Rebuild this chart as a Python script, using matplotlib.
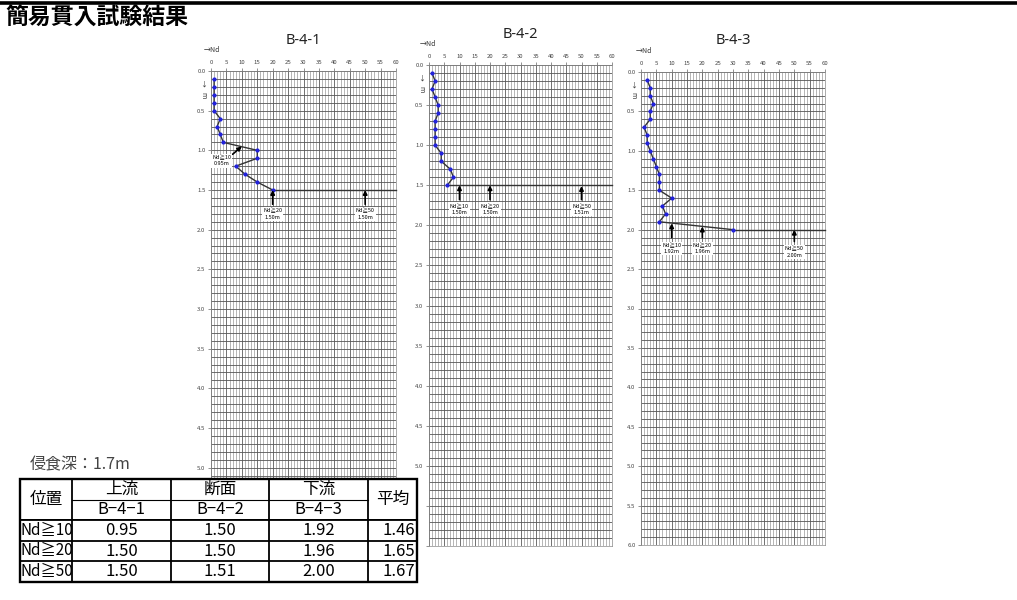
import numpy as np
import matplotlib
matplotlib.use('Agg')
import matplotlib.pyplot as plt
from matplotlib.patches import Rectangle

plt.rcParams['font.family'] = ['Noto Sans CJK JP', 'DejaVu Sans']

# 深度(m) と Nd 値
depth_1 = [0.1, 0.2, 0.3, 0.4, 0.5, 0.6, 0.7, 0.8, 0.9, 1.0, 1.1, 1.2, 1.3, 1.4, 1.5]
nd_1 = [1, 1, 1, 1, 1, 3, 2, 3, 4, 15, 15, 8, 11, 15, 20]
depth_2 = [0.1, 0.2, 0.3, 0.4, 0.5, 0.6, 0.7, 0.8, 0.9, 1.0, 1.1, 1.2, 1.3, 1.4, 1.5]
nd_2 = [1, 2, 1, 2, 3, 3, 2, 2, 2, 2, 4, 4, 7, 8, 6]
depth_3 = [0.1, 0.2, 0.3, 0.4, 0.5, 0.6, 0.7, 0.8, 0.9, 1.0, 1.1, 1.2, 1.3, 1.4, 1.5,
           1.6, 1.7, 1.8, 1.9, 2.0]
nd_3 = [2, 3, 3, 4, 3, 3, 1, 2, 2, 3, 4, 5, 6, 6, 6, 10, 7, 8, 6, 30]

names = ['B-4-1', 'B-4-2', 'B-4-3']
positions = ['上流', '断面', '下流']
thresholds = [10, 20, 50]
# Nd 到達深度 (各地点)
reach_1 = [0.95, 1.50, 1.50]
reach_2 = [1.50, 1.50, 1.51]
reach_3 = [1.92, 1.96, 2.00]
average = [1.46, 1.65, 1.67]
erosion_depth = 1.7

W, H = 1017, 600
fig = plt.figure(figsize=(W / 100, H / 100), dpi=100)


def px_axes(left, top, right, bottom):
    return fig.add_axes([left / W, 1 - bottom / H, (right - left) / W, (bottom - top) / H])


def draw_profile(ax, name, depth, nd, reach, label_pos, nd_off, max_label):
    ax.set_xlim(0, 60)
    ax.set_ylim(6.0, 0.0)
    ax.xaxis.tick_top()
    ax.set_xticks(range(0, 61, 5))
    ax.set_xticks(range(0, 61, 1), minor=True)
    yt = np.arange(0, 6.01, 0.5)
    ax.set_yticks(yt)
    ax.set_yticks(np.arange(0, 6.01, 0.1), minor=True)
    # 表で隠れる目盛は表示しない
    ax.set_yticklabels(['%.1f' % v if v <= max_label + 1e-9 else '' for v in yt])
    ax.tick_params(axis='both', which='major', labelsize=4.3, labelcolor='#444444',
                   length=2, width=0.5, pad=2, color='#666666')
    ax.tick_params(axis='both', which='minor', length=0)
    ax.grid(which='minor', axis='x', color='#a9a9a9', lw=0.6)
    ax.grid(which='major', axis='x', color='#666666', lw=0.65)
    ax.grid(which='both', axis='y', color='#555555', lw=0.6)
    for s in ax.spines.values():
        s.set_color('#888888')
        s.set_linewidth(0.5)

    ax.plot(nd, depth, color='#333333', lw=1.0, zorder=3)
    ax.plot([nd[-1], 60], [depth[-1], depth[-1]], color='#333333', lw=1.0, zorder=3,
            clip_on=False)
    ax.plot(nd, depth, 'o', color='#2222dd', ms=2.0, zorder=4)

    for thr, d, (tx, ty, ax_x, ax_y) in zip(thresholds, reach, label_pos):
        ax.annotate('', xy=(thr, d), xytext=(ax_x, ax_y),
                    arrowprops=dict(arrowstyle='-|>', color='black', lw=1.2,
                                    mutation_scale=6, shrinkA=0, shrinkB=0), zorder=5)
        ax.text(tx, ty, 'Nd≧%d\n%.2fm' % (thr, d), fontsize=4.0, ha='center', va='center',
                linespacing=1.3, zorder=6,
                bbox=dict(facecolor='white', edgecolor='none', pad=0.8))

    h = ax.get_position().height * H
    ax.text(0.5, 1 + 31 / h, name, transform=ax.transAxes, ha='center', va='center',
            fontsize=10.5, family=['Noto Sans', 'DejaVu Sans'], color='#222222')
    ax.text(nd_off, 1 + 21 / h, '→Nd', transform=ax.transAxes, ha='left', va='center',
            fontsize=5, color='#333333')
    ax.text(-0.04, 0.17, '↓', transform=ax.get_yaxis_transform(), ha='center', va='center',
            fontsize=5, color='#333333')
    ax.text(-0.04, 0.3, 'm', transform=ax.get_yaxis_transform(), ha='center', va='center',
            fontsize=5, color='#333333', rotation=-90)


ax1 = px_axes(211, 71, 396, 547)
draw_profile(ax1, names[0], depth_1, nd_1, reach_1,
             [(3.5, 1.13, 7.0, 1.05), (20, 1.8, 20, 1.68), (50, 1.8, 50, 1.68)], -0.04, 5.0)
ax2 = px_axes(429, 65, 612, 546)
draw_profile(ax2, names[1], depth_2, nd_2, reach_2,
             [(10, 1.8, 10, 1.68), (20, 1.8, 20, 1.68), (50, 1.8, 50, 1.68)], -0.05, 5.0)
ax3 = px_axes(641, 72, 825, 545)
draw_profile(ax3, names[2], depth_3, nd_3, reach_3,
             [(10, 2.24, 10, 2.1), (20, 2.24, 20, 2.1), (50, 2.28, 50, 2.15)], -0.03, 6.0)

# 上に重ねる描画用 (ピクセル座標)
ov = fig.add_axes([0, 0, 1, 1], zorder=10)
ov.set_xlim(0, W)
ov.set_ylim(H, 0)
ov.axis('off')
ov.patch.set_alpha(0)

ov.plot([0, W], [3, 3], color='black', lw=2.6, solid_capstyle='butt')
ov.text(5, 18, '簡易貫入試験結果', fontsize=16.5, fontweight='bold', ha='left', va='center')
ov.text(30, 465, '侵食深：%.1fm' % erosion_depth, fontsize=11.5, color='#444444',
        ha='left', va='center')

# 表
cols = [20, 72, 171, 269, 368, 417]
rows = [479, 500, 520, 541, 561, 582]
ov.add_patch(Rectangle((cols[0], rows[0]), cols[-1] - cols[0], rows[-1] - rows[0],
                       facecolor='white', edgecolor='none', zorder=1))
for x in cols[1:-1]:
    ov.plot([x, x], [rows[0], rows[-1]], color='black', lw=1.3, zorder=2)
for y in rows[2:-1]:
    ov.plot([cols[0], cols[-1]], [y, y], color='black', lw=1.3, zorder=2)
ov.plot([cols[1], cols[4]], [rows[1], rows[1]], color='black', lw=0.8, zorder=2)
ov.plot([cols[0], cols[-1]], [rows[2] - 1.5, rows[2] - 1.5], color='black', lw=0.7, zorder=2)
ov.add_patch(Rectangle((cols[0], rows[0]), cols[-1] - cols[0], rows[-1] - rows[0],
                       facecolor='none', edgecolor='black', lw=1.7, zorder=3))

ov.text((cols[0] + cols[1]) / 2, (rows[0] + rows[2]) / 2, '位置', fontsize=12,
        ha='center', va='center', zorder=4)
ov.text((cols[4] + cols[5]) / 2, (rows[0] + rows[2]) / 2, '平均', fontsize=12,
        ha='center', va='center', zorder=4)
for i in range(3):
    cx = (cols[i + 1] + cols[i + 2]) / 2
    ov.text(cx, (rows[0] + rows[1]) / 2, positions[i], fontsize=12, ha='center',
            va='center', zorder=4)
    ov.text(cx, (rows[1] + rows[2]) / 2, names[i].replace('-', '−'), fontsize=12,
            ha='center', va='center', zorder=4)

clip = Rectangle((cols[0], rows[2]), cols[1] - cols[0], rows[-1] - rows[2],
                 transform=ov.transData, facecolor='none', edgecolor='none')
for j, thr in enumerate(thresholds):
    cy = (rows[j + 2] + rows[j + 3]) / 2
    t = ov.text(cols[0] + 1, cy, 'Nd≧%d' % thr, fontsize=11, ha='left', va='center',
                zorder=4)
    t.set_clip_path(clip)
    for i, vals in enumerate([reach_1, reach_2, reach_3]):
        cx = (cols[i + 1] + cols[i + 2]) / 2
        ov.text(cx, cy, '%.2f' % vals[j], fontsize=12, ha='center', va='center', zorder=4)
    ov.text(cols[5] - 2, cy, '%.2f' % average[j], fontsize=12, ha='right', va='center',
            zorder=4)

fig.savefig('out.png', dpi=100)
